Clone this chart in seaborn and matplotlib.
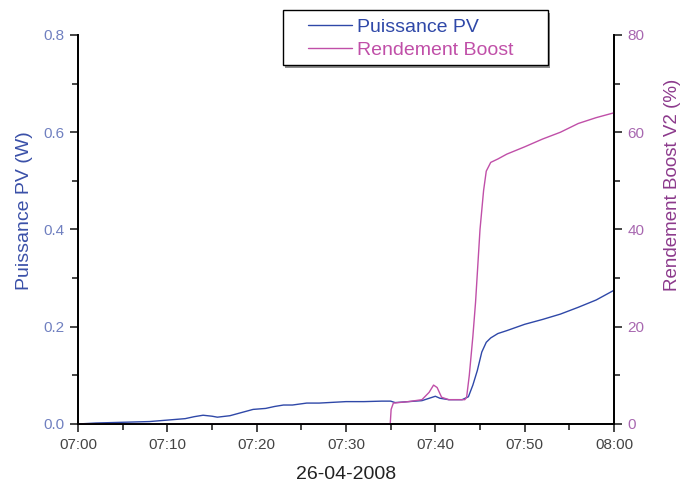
import matplotlib
matplotlib.use("Agg")
import matplotlib.pyplot as plt
import seaborn as sns
import pandas as pd
from matplotlib.patches import Rectangle
from matplotlib.ticker import MultipleLocator, FuncFormatter

# minutes after 07:00 on 26-04-2008
pv_minutes = [0, 2, 4, 6, 8, 10, 12, 13, 14, 15, 15.6, 17, 18, 19, 19.6, 21, 22, 23,
              24, 25.6, 27, 28, 30, 32, 34, 35, 35.5, 37, 38.5, 39.5, 40, 40.5, 41.5,
              43, 43.7, 44.2, 44.7, 45.2, 45.7, 46.2, 47, 48, 50, 52, 54, 56, 58, 60]
pv_power = [0.0, 0.002, 0.003, 0.004, 0.005, 0.008, 0.011, 0.015, 0.018, 0.016, 0.014,
            0.017, 0.022, 0.027, 0.030, 0.032, 0.036, 0.039, 0.039, 0.043, 0.043, 0.044,
            0.046, 0.046, 0.047, 0.047, 0.044, 0.046, 0.048, 0.054, 0.057, 0.053, 0.050,
            0.050, 0.056, 0.080, 0.110, 0.148, 0.168, 0.177, 0.186, 0.192, 0.205, 0.215,
            0.226, 0.240, 0.255, 0.275]

boost_minutes = [0, 10, 20, 30, 34.95, 35.05, 35.3, 37, 38.5, 39.3, 39.8, 40.2, 40.7,
                 41.5, 43.3, 43.5, 43.8, 44.2, 44.5, 45.0, 45.4, 45.7, 46.2, 47, 48, 50,
                 52, 54, 56, 58, 60]
boost_eff = [0, 0, 0, 0, 0, 3.0, 4.3, 4.6, 5.0, 6.5, 8.0, 7.5, 5.5, 5.0, 5.0, 5.5, 10,
             18, 25, 40, 48, 52, 53.8, 54.5, 55.5, 57, 58.6, 60, 61.8, 63, 64]

x_ticks = [0, 10, 20, 30, 40, 50, 60]
x_labels = ["07:00", "07:10", "07:20", "07:30", "07:40", "07:50", "08:00"]

blue = "#2f48a8"
pink = "#c04fa8"

sns.set_style("ticks")
plt.rcParams["font.family"] = ["Liberation Sans", "DejaVu Sans"]

fig = plt.figure(figsize=(6.82, 4.86), dpi=100)
ax = fig.add_axes([0.1144, 0.1276, 0.7859, 0.8004])
ax2 = ax.twinx()

pv_df = pd.DataFrame({"t": pv_minutes, "p": pv_power})
boost_df = pd.DataFrame({"t": boost_minutes, "r": boost_eff})

sns.lineplot(data=pv_df, x="t", y="p", ax=ax, color=blue, lw=1.0, label="Puissance PV",
             legend=False)
sns.lineplot(data=boost_df, x="t", y="r", ax=ax2, color=pink, lw=1.0,
             label="Rendement Boost", legend=False)

ax.set_xlim(0, 60)
ax.set_ylim(0, 0.8)
ax2.set_ylim(0, 80)
ax.set_xticks(x_ticks)
ax.set_xticklabels(x_labels)
ax.xaxis.set_minor_locator(MultipleLocator(5))
ax.yaxis.set_major_locator(MultipleLocator(0.2))
ax.yaxis.set_minor_locator(MultipleLocator(0.1))
ax.yaxis.set_major_formatter(FuncFormatter(lambda v, p: f"{v:.1f}"))
ax2.yaxis.set_major_locator(MultipleLocator(20))
ax2.yaxis.set_minor_locator(MultipleLocator(10))

for a in (ax, ax2):
    a.spines["top"].set_visible(False)
    for s in ("left", "right", "bottom"):
        a.spines[s].set_color("black")
        a.spines[s].set_linewidth(1.3)
    a.tick_params(which="major", direction="out", length=6, width=1.2, labelsize=11)
    a.tick_params(which="minor", direction="out", length=4, width=1.2)

ax.tick_params(axis="y", labelcolor="#7080c0")
ax.tick_params(axis="x", labelcolor="#444444", pad=4)
ax2.tick_params(axis="y", labelcolor="#a868b0")

ax.set_xlabel("26-04-2008", fontsize=14, color="#222222", labelpad=10)
ax.set_ylabel("Puissance PV (W)", fontsize=14, color="#3a50a8", labelpad=8)
ax2.set_ylabel("Rendement Boost V2 (%)", fontsize=13.5, color="#8c3a8c", labelpad=14)
# both y labels sit a bit above the middle of the axis in the original
ax.yaxis.label.set_y(0.548)
ax2.yaxis.label.set_y(0.614)

# legend box with drop shadow, drawn in figure pixels
x0, x1, y0, y1 = 283 / 682, 548 / 682, 1 - 65 / 486, 1 - 10 / 486
fig.patches.append(Rectangle((x0 + 2 / 682, y0 - 3 / 486), x1 - x0, y1 - y0,
                             transform=fig.transFigure, facecolor="#8c8c8c",
                             edgecolor="none", zorder=5))
fig.patches.append(Rectangle((x0, y0), x1 - x0, y1 - y0, transform=fig.transFigure,
                             facecolor="white", edgecolor="black", lw=1.0, zorder=6))

h1, l1 = ax.get_legend_handles_labels()
h2, l2 = ax2.get_legend_handles_labels()
leg = fig.legend(h1 + h2, l1 + l2, loc="upper left",
                 bbox_to_anchor=(308 / 682, 1 - 18 / 486), frameon=False,
                 fontsize=14, handlelength=2.27, borderpad=0, labelspacing=0.3,
                 borderaxespad=0, handletextpad=0.26)
leg.set_zorder(7)
leg.get_texts()[0].set_color(blue)
leg.get_texts()[1].set_color(pink)

fig.savefig("out.png", dpi=100)
